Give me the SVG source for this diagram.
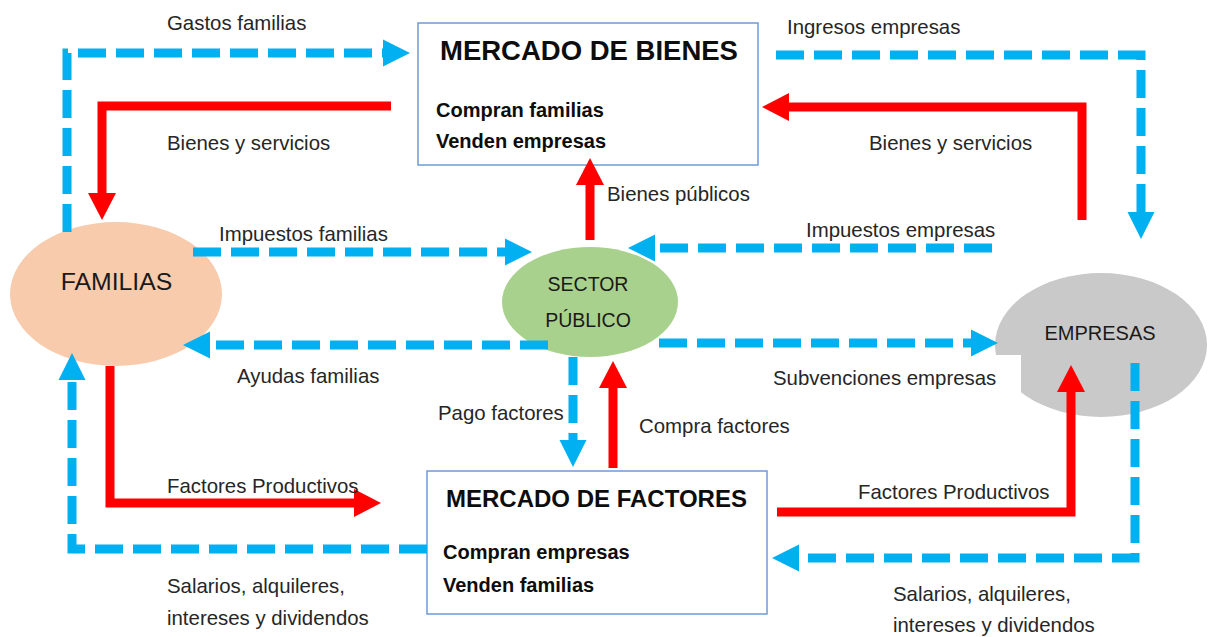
<svg xmlns="http://www.w3.org/2000/svg" width="1209" height="637" viewBox="0 0 1209 637">
<style>
.lbl{font-family:"Liberation Sans",Arial,sans-serif;font-size:20.4px;fill:#262626}
.title{font-family:"Liberation Sans",Arial,sans-serif;font-weight:bold;fill:#0d0d0d}
.sub{font-family:"Liberation Sans",Arial,sans-serif;font-weight:bold;font-size:20px;fill:#0d0d0d}
.node{font-family:"Liberation Sans",Arial,sans-serif;fill:#1a1a1a;text-anchor:middle}
.box{fill:#ffffff;stroke:#6F9AD6;stroke-width:1.5}
.flow{fill:none;stroke:#00B0F0;stroke-width:9;stroke-dasharray:28 10;stroke-linejoin:miter}
.good{fill:none;stroke:#FF0000;stroke-width:9;stroke-linejoin:miter}
</style>
<defs>
<marker id="ab" markerUnits="userSpaceOnUse" markerWidth="28" markerHeight="28" refX="0" refY="14" orient="auto" overflow="visible">
<path d="M0,0.5 L27,14 L0,27.5 Z" fill="#00B0F0"/>
</marker>
<marker id="ar" markerUnits="userSpaceOnUse" markerWidth="28" markerHeight="28" refX="0" refY="14" orient="auto" overflow="visible">
<path d="M0,0 L27,14 L0,28 Z" fill="#FF0000"/>
</marker>
</defs>
<rect width="1209" height="637" fill="#ffffff"/>

<g id="mercado-bienes">
<rect class="box" x="418" y="23" width="340" height="142"/>
<text class="title" x="440" y="60" font-size="27.5">MERCADO DE BIENES</text>
<text class="sub" x="436" y="117">Compran familias</text>
<text class="sub" x="436" y="148">Venden empresas</text>
</g>

<g id="mercado-factores">
<rect class="box" x="427" y="471" width="340" height="143"/>
<text class="title" x="446" y="507" font-size="24">MERCADO DE FACTORES</text>
<text class="sub" x="443" y="559">Compran empresas</text>
<text class="sub" x="443" y="592">Venden familias</text>
</g>

<g id="familias">
<ellipse cx="116" cy="294" rx="106" ry="72" fill="#F7CBAC"/>
<text class="node" x="116.5" y="290" font-size="24.8">FAMILIAS</text>
</g>

<g id="sector-publico">
<ellipse cx="590" cy="302" rx="88" ry="55" fill="#A9D18E"/>
<text class="node" x="588" y="291" font-size="19.5">SECTOR</text>
<text class="node" x="588" y="327" font-size="19.5">PÚBLICO</text>
</g>

<g id="empresas">
<ellipse cx="1101" cy="345" rx="106" ry="72" fill="#C9C9C9"/>
<rect x="990" y="355" width="31" height="65" fill="#ffffff"/>
<text class="node" x="1100" y="340" font-size="20">EMPRESAS</text>
</g>

<g id="connectors">
<path class="flow" d="M67,232 V53 H383" marker-end="url(#ab)"/>
<path class="flow" d="M776,55 H1141 V212" marker-end="url(#ab)"/>
<path class="flow" d="M193,252 H505" marker-end="url(#ab)"/>
<path class="flow" d="M548,345 H210" marker-end="url(#ab)"/>
<path class="flow" d="M992,248 H655" marker-end="url(#ab)"/>
<path class="flow" d="M659,343 H971" marker-end="url(#ab)"/>
<path class="flow" d="M573,357 V440" marker-end="url(#ab)"/>
<path class="flow" d="M427,549 H72 V380" marker-end="url(#ab)"/>
<path class="flow" d="M1135,363 V558 H799" marker-end="url(#ab)"/>

<path class="good" d="M391,106 H102 V193" marker-end="url(#ar)"/>
<path class="good" d="M1082,220 V107 H789" marker-end="url(#ar)"/>
<path class="good" d="M590,240 V185" marker-end="url(#ar)"/>
<path class="good" d="M613,468 V388" marker-end="url(#ar)"/>
<path class="good" d="M110,366 V503 H354" marker-end="url(#ar)"/>
<path class="good" d="M777,512 H1071 V392" marker-end="url(#ar)"/>
</g>

<g id="labels">
<text class="lbl" x="167" y="30">Gastos familias</text>
<text class="lbl" x="167" y="150">Bienes y servicios</text>
<text class="lbl" x="787" y="34">Ingresos empresas</text>
<text class="lbl" x="869" y="150">Bienes y servicios</text>
<text class="lbl" x="219" y="241">Impuestos familias</text>
<text class="lbl" x="806" y="237">Impuestos empresas</text>
<text class="lbl" x="607" y="201">Bienes públicos</text>
<text class="lbl" x="237" y="383">Ayudas familias</text>
<text class="lbl" x="773" y="385">Subvenciones empresas</text>
<text class="lbl" x="438" y="420">Pago factores</text>
<text class="lbl" x="639" y="433">Compra factores</text>
<text class="lbl" x="167" y="493">Factores Productivos</text>
<text class="lbl" x="858" y="499">Factores Productivos</text>
<text class="lbl" x="167" y="593">Salarios, alquileres,</text>
<text class="lbl" x="167" y="625">intereses y dividendos</text>
<text class="lbl" x="893" y="601">Salarios, alquileres,</text>
<text class="lbl" x="893" y="632">intereses y dividendos</text>
</g>
</svg>
